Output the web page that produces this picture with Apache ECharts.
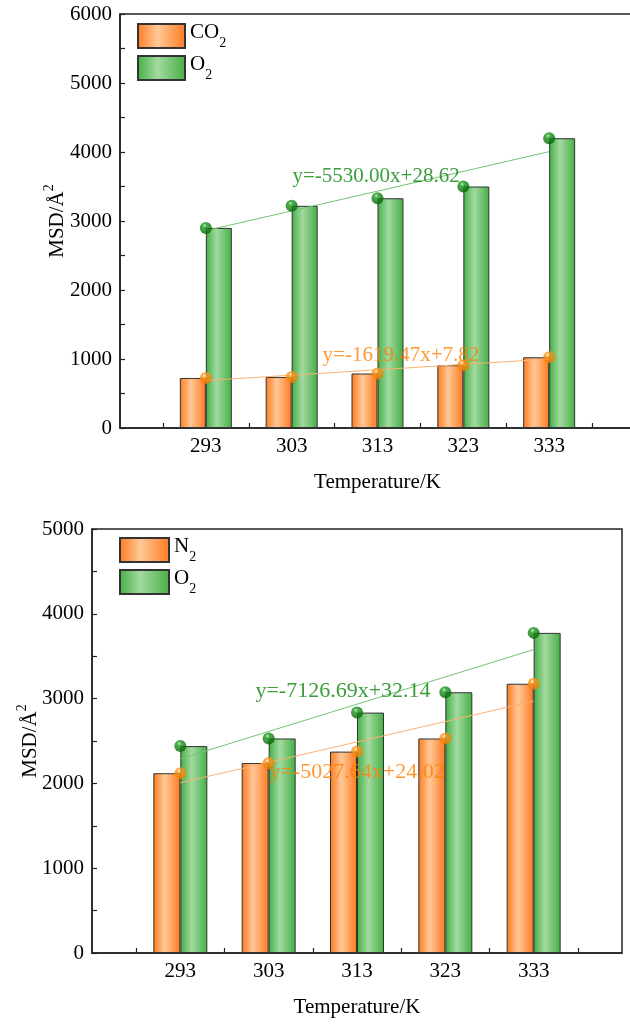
<!DOCTYPE html>
<html>
<head>
<meta charset="utf-8">
<script src="https://cdn.jsdelivr.net/npm/echarts@6/dist/echarts.min.js"></script>
<style>html,body{margin:0;padding:0;background:#fff}#c{width:630px;height:1025px}</style>
</head>
<body>
<div id="c"></div>
<script>
// ---- data ----
const temperatures = [293, 303, 313, 323, 333];
const co2Top = [725, 740, 790, 910, 1025];
const o2Top = [2900, 3220, 3330, 3500, 4200];
const n2Bottom = [2120, 2240, 2375, 2530, 3175];
const o2Bottom = [2440, 2530, 2835, 3075, 3775];
// fitted trend lines, value at first and last temperature
const fitCO2Top = [688, 1000];
const fitO2Top = [2860, 4005];
const fitN2Bottom = [2008, 2970];
const fitO2Bottom = [2290, 3578];
const eqCO2Top = 'y=-1619.47x+7.82';
const eqO2Top = 'y=-5530.00x+28.62';
const eqN2Bottom = 'y=-5027.64x+24.02';
const eqO2Bottom = 'y=-7126.69x+32.14';
const xLabelTicks = [293, 303, 313, 323, 333];
const xMinorTicks = [288, 298, 308, 318, 328, 338];

const FF = '"Liberation Serif","Times New Roman",serif';
const G = echarts.graphic;
const orangeFill = new G.LinearGradient(0, 0, 1, 0, [
  {offset: 0, color: '#ff7a1e'}, {offset: 0.42, color: '#ffc898'}, {offset: 1, color: '#ff7a1e'}]);
const greenFill = new G.LinearGradient(0, 0, 1, 0, [
  {offset: 0, color: '#44ae44'}, {offset: 0.42, color: '#a2daa0'}, {offset: 1, color: '#44ae44'}]);
const greenDot = new G.RadialGradient(0.4, 0.3, 0.75, [
  {offset: 0, color: '#b8f0b8'}, {offset: 0.22, color: '#1c9a1c'}, {offset: 1, color: '#045a04'}]);
const orangeDot = new G.RadialGradient(0.4, 0.3, 0.75, [
  {offset: 0, color: '#fff0d8'}, {offset: 0.22, color: '#ff9a1c'}, {offset: 1, color: '#f07800'}]);

const pairs = (vals) => temperatures.map((t, i) => [t, vals[i]]);
const ends = (v) => [[temperatures[0], v[0]], [temperatures[temperatures.length - 1], v[1]]];

function xAxis(gi) {
  return {
    type: 'value', gridIndex: gi, min: 283, max: 343,
    name: 'Temperature/K', nameLocation: 'middle', nameGap: 44, nameMoveOverlap: false,
    nameTextStyle: {fontFamily: FF, fontSize: 21, color: '#000'},
    axisLine: {show: true, lineStyle: {color: '#222', width: 1.5}},
    axisTick: {show: true, inside: true, length: 5, customValues: xMinorTicks, lineStyle: {color: '#222', width: 1.2}},
    axisLabel: {customValues: xLabelTicks, fontFamily: FF, fontSize: 21, color: '#000', margin: 8},
    splitLine: {show: false}
  };
}
function yAxis(gi, max, gap) {
  return {
    type: 'value', gridIndex: gi, min: 0, max: max, interval: 1000,
    name: '{n|MSD/Å}{p|2}', nameLocation: 'middle', nameGap: gap, nameRotate: 90, nameMoveOverlap: false,
    nameTextStyle: {rich: {
      n: {fontFamily: FF, fontSize: 21, color: '#000', lineHeight: 26, verticalAlign: 'bottom'},
      p: {fontFamily: FF, fontSize: 14, color: '#000', lineHeight: 26, verticalAlign: 'top'}}},
    axisLine: {show: true, lineStyle: {color: '#222', width: 1.5}},
    axisTick: {show: true, inside: true, length: 5, lineStyle: {color: '#222', width: 1.2}},
    minorTick: {show: true, splitNumber: 2, length: 5, lineStyle: {color: '#222', width: 1.2}},
    axisLabel: {fontFamily: FF, fontSize: 21, color: '#000', margin: 8, formatter: (v) => String(v)},
    splitLine: {show: false}
  };
}
function bar(name, vals, gi, fill, w) {
  return {
    type: 'bar', name: name, xAxisIndex: gi, yAxisIndex: gi, data: pairs(vals),
    barWidth: w, barGap: '0%', z: 2,
    itemStyle: {color: fill, borderColor: '#333', borderWidth: 1}
  };
}
function fit(vals, gi, color) {
  return {
    type: 'line', xAxisIndex: gi, yAxisIndex: gi, data: ends(vals), symbol: 'none', z: 3,
    lineStyle: {color: color, width: 1}, silent: true
  };
}
function dots(vals, gi, fill) {
  return {
    type: 'scatter', xAxisIndex: gi, yAxisIndex: gi, data: pairs(vals), symbolSize: 12, z: 5,
    itemStyle: {color: fill}
  };
}
function eq(text, coord, gi, color, size) {
  return {
    type: 'scatter', xAxisIndex: gi, yAxisIndex: gi, data: [coord], symbolSize: 0, z: 4, silent: true,
    label: {show: true, position: 'right', distance: 0, formatter: text,
      fontFamily: FF, fontSize: size, color: color}
  };
}
const legendRich = {
  n: {fontFamily: FF, fontSize: 21, color: '#000', lineHeight: 28, verticalAlign: 'top'},
  s: {fontFamily: FF, fontSize: 14, color: '#000', lineHeight: 28, verticalAlign: 'bottom'}
};
const legendFmt = (nm) => '{n|' + nm.slice(0, -1) + '}{s|' + nm.slice(-1) + '}';

const chart = echarts.init(document.getElementById('c'), null, {renderer: 'canvas'});
chart.setOption({
  animation: false,
  backgroundColor: '#fff',
  grid: [
    {left: 120, top: 14, width: 515, height: 414, show: true, borderColor: '#222', borderWidth: 1.5, outerBoundsMode: 'none', containLabel: false},
    {left: 92, top: 529, width: 530, height: 424, show: true, borderColor: '#222', borderWidth: 1.5, outerBoundsMode: 'none', containLabel: false}
  ],
  legend: [
    {data: ['CO2', 'O2'], left: 137, top: 22, padding: 0, orient: 'vertical', icon: 'rect', itemWidth: 47, itemHeight: 24, itemGap: 4,
      formatter: legendFmt, textStyle: {rich: legendRich}, selectedMode: false},
    {data: ['N2', 'O2 '], left: 119, top: 536, padding: 0, orient: 'vertical', icon: 'rect', itemWidth: 49, itemHeight: 24, itemGap: 4,
      formatter: (nm) => legendFmt(nm.trim()), textStyle: {rich: legendRich}, selectedMode: false}
  ],
  xAxis: [xAxis(0), xAxis(1)],
  yAxis: [yAxis(0, 6000, 52), yAxis(1, 5000, 51)],
  series: [
    bar('CO2', co2Top, 0, orangeFill, 26),
    bar('O2', o2Top, 0, greenFill, 26),
    fit(fitO2Top, 0, '#74c474'),
    fit(fitCO2Top, 0, '#ffb070'),
    dots(o2Top, 0, greenDot),
    dots(co2Top, 0, orangeDot),
    eq(eqO2Top, [303.1, 3640], 0, '#0a850a', 21),
    eq(eqCO2Top, [306.6, 1045], 0, '#ff8000', 21),
    bar('N2', n2Bottom, 1, orangeFill, 27),
    bar('O2 ', o2Bottom, 1, greenFill, 27),
    fit(fitO2Bottom, 1, '#74c474'),
    fit(fitN2Bottom, 1, '#ffb070'),
    dots(o2Bottom, 1, greenDot),
    dots(n2Bottom, 1, orangeDot),
    eq(eqO2Bottom, [301.5, 3090], 1, '#0a850a', 22),
    eq(eqN2Bottom, [303.1, 2134], 1, '#ff8000', 22)
  ]
});
</script>
</body>
</html>
